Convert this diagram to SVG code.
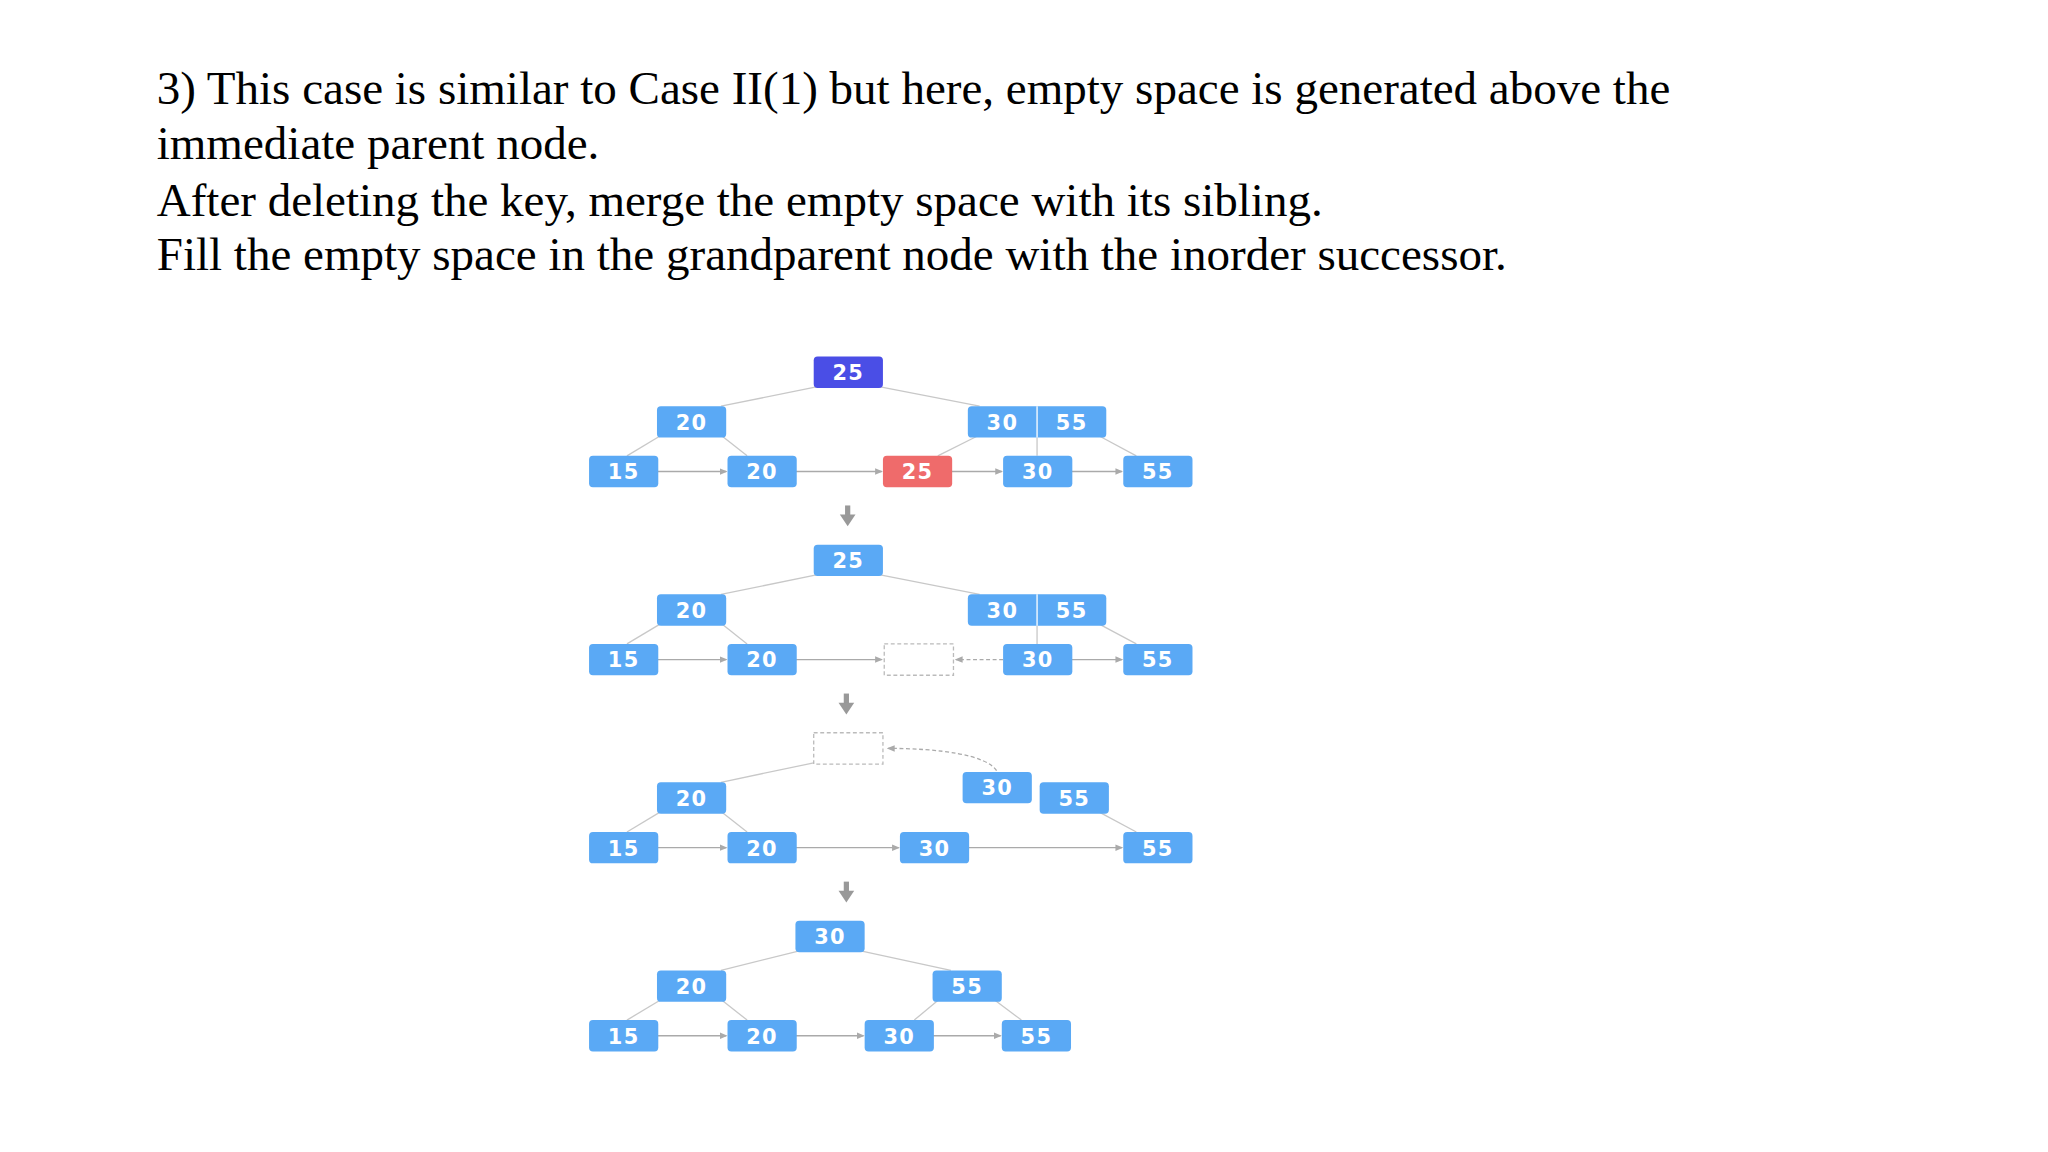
<svg xmlns="http://www.w3.org/2000/svg" width="2048" height="1152" viewBox="0 0 2048 1152">
<defs>
<marker id="ah" markerWidth="6" markerHeight="6" refX="5" refY="3" orient="auto" markerUnits="userSpaceOnUse"><path d="M0,0.5 L6,3 L0,5.5 z" fill="#aaa"/></marker>
</defs>
<style>
.t{font-family:"Liberation Serif",serif;font-size:36px;fill:#000}
.n{fill:#5aa9f5}
.r{fill:#ef6b6b}
.p{fill:#4a4ee6}
.d{fill:none;stroke:#bbb;stroke-dasharray:3,2}
.k{font-family:"DejaVu Sans",sans-serif;font-weight:bold;font-size:16px;fill:#fff;text-anchor:middle;letter-spacing:1px}
.e{stroke:#c8c8c8;stroke-width:1;fill:none}
.a{stroke:#aaa;stroke-width:1;fill:none;marker-end:url(#ah)}
.da{stroke:#aaa;stroke-width:1;fill:none;stroke-dasharray:3,2;marker-end:url(#ah)}
</style>
<rect width="2048" height="1152" fill="#fff"/>
<g transform="scale(1.30612)">
<g id="title">
<text class="t" x="120" y="80">3) This case is similar to Case II(1) but here, empty space is generated above the</text>
<text class="t" x="120" y="122">immediate parent node.</text>
<text class="t" x="120" y="165">After deleting the key, merge the empty space with its sibling.</text>
<text class="t" x="120" y="207">Fill the empty space in the grandparent node with the inorder successor.</text>
</g>
<g id="connectors">
<line class="e" x1="626" y1="296" x2="552" y2="311"/><line class="e" x1="673" y1="296" x2="750" y2="311"/>
<line class="e" x1="505" y1="334" x2="480" y2="349"/><line class="e" x1="553" y1="334" x2="572" y2="349"/>
<line class="e" x1="748" y1="334" x2="718" y2="349"/><line class="e" x1="794" y1="335" x2="794" y2="349"/><line class="e" x1="842" y1="334" x2="870" y2="349"/>
<line class="a" x1="503" y1="361" x2="556" y2="361"/><line class="a" x1="609" y1="361" x2="675" y2="361"/><line class="a" x1="728" y1="361" x2="767" y2="361"/><line class="a" x1="820" y1="361" x2="859" y2="361"/>
<line class="e" x1="626" y1="440" x2="552" y2="455"/><line class="e" x1="673" y1="440" x2="750" y2="455"/>
<line class="e" x1="505" y1="478" x2="480" y2="493"/><line class="e" x1="553" y1="478" x2="572" y2="493"/>
<line class="e" x1="794" y1="479" x2="794" y2="493"/><line class="e" x1="842" y1="478" x2="870" y2="493"/>
<line class="a" x1="503" y1="505" x2="556" y2="505"/><line class="a" x1="609" y1="505" x2="675" y2="505"/><line class="da" x1="768" y1="505" x2="732" y2="505"/><line class="a" x1="820" y1="505" x2="859" y2="505"/>
<line class="e" x1="623" y1="584" x2="552" y2="599"/>
<path class="da" d="M763,590 C755,578 720,573 680,573"/>
<line class="e" x1="505" y1="622" x2="480" y2="637"/><line class="e" x1="553" y1="622" x2="572" y2="637"/><line class="e" x1="842" y1="622" x2="870" y2="637"/>
<line class="a" x1="503" y1="649" x2="556" y2="649"/><line class="a" x1="609" y1="649" x2="688" y2="649"/><line class="a" x1="741" y1="649" x2="859" y2="649"/>
<line class="e" x1="612" y1="728" x2="552" y2="743"/><line class="e" x1="659" y1="728" x2="728" y2="743"/>
<line class="e" x1="505" y1="766" x2="480" y2="781"/><line class="e" x1="553" y1="766" x2="572" y2="781"/>
<line class="e" x1="718" y1="766" x2="700" y2="781"/><line class="e" x1="762" y1="766" x2="782" y2="781"/>
<line class="a" x1="503" y1="793" x2="556" y2="793"/><line class="a" x1="609" y1="793" x2="661" y2="793"/><line class="a" x1="714" y1="793" x2="766" y2="793"/>
<g fill="#999"><rect x="647" y="387" width="4" height="9"/><path d="M643,394 L655,394 L649,403 z"/>
<rect x="646" y="531" width="4" height="9"/><path d="M642,538 L654,538 L648,547 z"/>
<rect x="646" y="675" width="4" height="9"/><path d="M642,682 L654,682 L648,691 z"/></g>
</g>
<g id="s1">
<g id="s1root"><rect class="p" x="623" y="273" width="53" height="24" rx="3"/><text class="k" x="649.5" y="291">25</text></g>
<g id="s1a"><rect class="n" x="503" y="311" width="53" height="24" rx="3"/><text class="k" x="529.5" y="329">20</text></g>
<g id="s1b"><rect class="n" x="741" y="311" width="106" height="24" rx="3"/><line x1="794" y1="311" x2="794" y2="335" stroke="#fff"/><text class="k" x="767.5" y="329">30</text><text class="k" x="820.5" y="329">55</text></g>
<g id="s1l1"><rect class="n" x="451" y="349" width="53" height="24" rx="3"/><text class="k" x="477.5" y="367">15</text></g>
<g id="s1l2"><rect class="n" x="557" y="349" width="53" height="24" rx="3"/><text class="k" x="583.5" y="367">20</text></g>
<g id="s1l3"><rect class="r" x="676" y="349" width="53" height="24" rx="3"/><text class="k" x="702.5" y="367">25</text></g>
<g id="s1l4"><rect class="n" x="768" y="349" width="53" height="24" rx="3"/><text class="k" x="794.5" y="367">30</text></g>
<g id="s1l5"><rect class="n" x="860" y="349" width="53" height="24" rx="3"/><text class="k" x="886.5" y="367">55</text></g>
</g>
<g id="s2">
<g id="s2root"><rect class="n" x="623" y="417" width="53" height="24" rx="3"/><text class="k" x="649.5" y="435">25</text></g>
<g id="s2a"><rect class="n" x="503" y="455" width="53" height="24" rx="3"/><text class="k" x="529.5" y="473">20</text></g>
<g id="s2b"><rect class="n" x="741" y="455" width="106" height="24" rx="3"/><line x1="794" y1="455" x2="794" y2="479" stroke="#fff"/><text class="k" x="767.5" y="473">30</text><text class="k" x="820.5" y="473">55</text></g>
<g id="s2l1"><rect class="n" x="451" y="493" width="53" height="24" rx="3"/><text class="k" x="477.5" y="511">15</text></g>
<g id="s2l2"><rect class="n" x="557" y="493" width="53" height="24" rx="3"/><text class="k" x="583.5" y="511">20</text></g>
<g id="s2l3"><rect class="d" x="677" y="493" width="53" height="24"/></g>
<g id="s2l4"><rect class="n" x="768" y="493" width="53" height="24" rx="3"/><text class="k" x="794.5" y="511">30</text></g>
<g id="s2l5"><rect class="n" x="860" y="493" width="53" height="24" rx="3"/><text class="k" x="886.5" y="511">55</text></g>
</g>
<g id="s3">
<g id="s3root"><rect class="d" x="623" y="561" width="53" height="24"/></g>
<g id="s3a"><rect class="n" x="503" y="599" width="53" height="24" rx="3"/><text class="k" x="529.5" y="617">20</text></g>
<g id="s3m"><rect class="n" x="737" y="591" width="53" height="24" rx="3"/><text class="k" x="763.5" y="609">30</text></g>
<g id="s3b"><rect class="n" x="796" y="599" width="53" height="24" rx="3"/><text class="k" x="822.5" y="617">55</text></g>
<g id="s3l1"><rect class="n" x="451" y="637" width="53" height="24" rx="3"/><text class="k" x="477.5" y="655">15</text></g>
<g id="s3l2"><rect class="n" x="557" y="637" width="53" height="24" rx="3"/><text class="k" x="583.5" y="655">20</text></g>
<g id="s3l3"><rect class="n" x="689" y="637" width="53" height="24" rx="3"/><text class="k" x="715.5" y="655">30</text></g>
<g id="s3l4"><rect class="n" x="860" y="637" width="53" height="24" rx="3"/><text class="k" x="886.5" y="655">55</text></g>
</g>
<g id="s4">
<g id="s4root"><rect class="n" x="609" y="705" width="53" height="24" rx="3"/><text class="k" x="635.5" y="723">30</text></g>
<g id="s4a"><rect class="n" x="503" y="743" width="53" height="24" rx="3"/><text class="k" x="529.5" y="761">20</text></g>
<g id="s4b"><rect class="n" x="714" y="743" width="53" height="24" rx="3"/><text class="k" x="740.5" y="761">55</text></g>
<g id="s4l1"><rect class="n" x="451" y="781" width="53" height="24" rx="3"/><text class="k" x="477.5" y="799">15</text></g>
<g id="s4l2"><rect class="n" x="557" y="781" width="53" height="24" rx="3"/><text class="k" x="583.5" y="799">20</text></g>
<g id="s4l3"><rect class="n" x="662" y="781" width="53" height="24" rx="3"/><text class="k" x="688.5" y="799">30</text></g>
<g id="s4l4"><rect class="n" x="767" y="781" width="53" height="24" rx="3"/><text class="k" x="793.5" y="799">55</text></g>
</g>
</g>
</svg>
